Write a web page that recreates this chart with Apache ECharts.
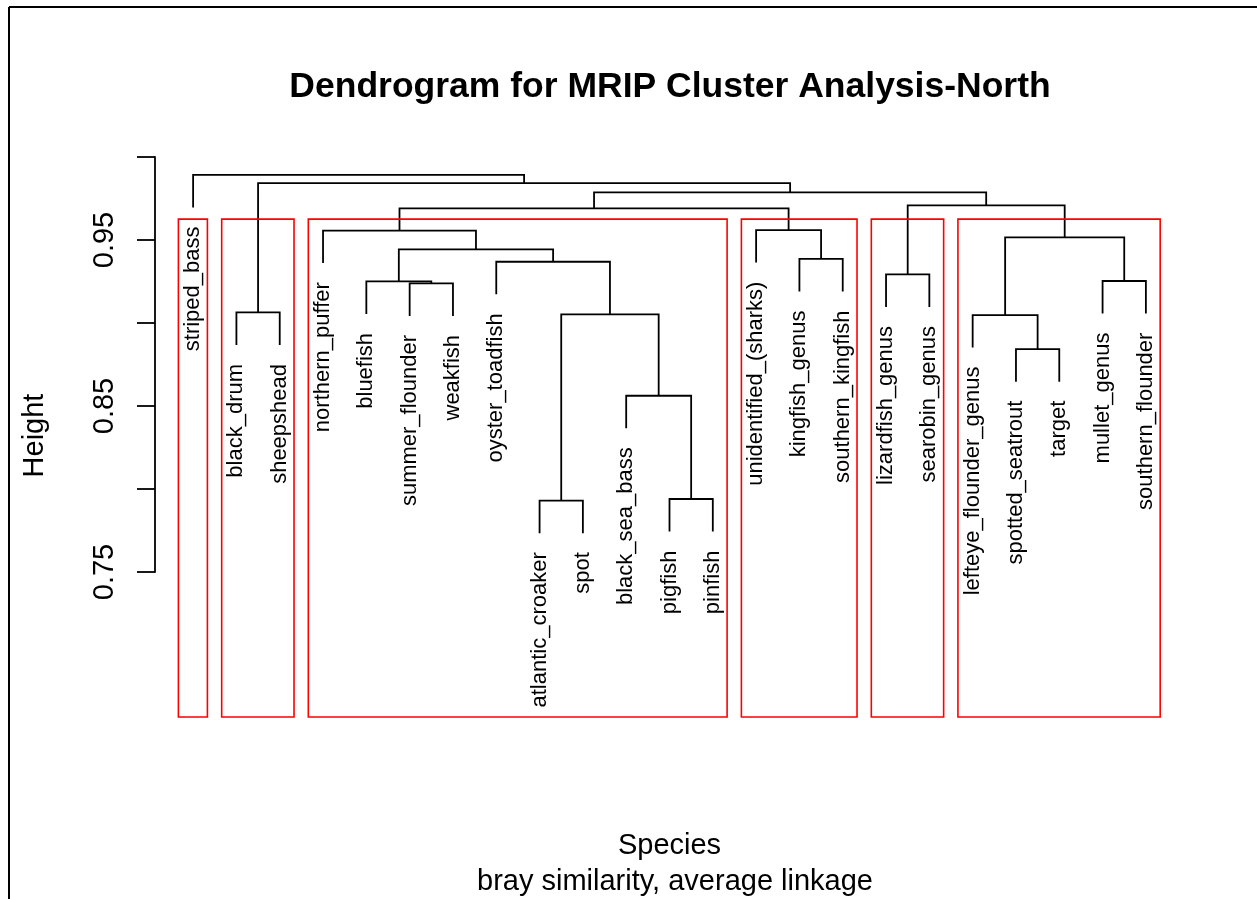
<!DOCTYPE html>
<html>
<head>
<meta charset="utf-8">
<style>
  html, body { margin: 0; padding: 0; background: #fff; }
  #chart { width: 1257px; height: 899px; }
</style>
<script src="https://cdn.jsdelivr.net/npm/echarts@6/dist/echarts.min.js"></script>
</head>
<body>
<div id="chart"></div>
<script>
// leaves in plotting order (left to right)
const leaves = [
    "striped_bass", "black_drum", "sheepshead", "northern_puffer", "bluefish",
    "summer_flounder", "weakfish", "oyster_toadfish", "atlantic_croaker", "spot",
    "black_sea_bass", "pigfish", "pinfish", "unidentified_(sharks)", "kingfish_genus",
    "southern_kingfish", "lizardfish_genus", "searobin_genus", "lefteye_flounder_genus",
    "spotted_seatrout", "target", "mullet_genus", "southern_flounder"
];

// hclust-style merges: negative = leaf position, positive = earlier merge row; third = height
const merges = [
    [-9, -10, 0.7930],
    [-12, -13, 0.7940],
    [-11, 2, 0.8562],
    [-20, -21, 0.8843],
    [-19, 4, 0.9048],
    [1, 3, 0.9052],
    [-2, -3, 0.9064],
    [-6, -7, 0.9239],
    [-5, 8, 0.9251],
    [-22, -23, 0.9253],
    [-17, -18, 0.9293],
    [-8, 6, 0.9369],
    [-15, -16, 0.9386],
    [9, 12, 0.9444],
    [5, 10, 0.9516],
    [-4, 14, 0.9557],
    [-14, 13, 0.9560],
    [16, 17, 0.9691],
    [11, 15, 0.9709],
    [18, 19, 0.9787],
    [7, 20, 0.9842],
    [-1, 21, 0.9892]
];

// rect.hclust(k = 6) cluster sizes, left to right
const clusterSizes = [1, 2, 10, 3, 2, 5];
const yTickLabels = ["0.75", "0.85", "0.95"];
const hangFraction = 0.1;

const yMin = 0.6627;
const yMax = 1.0018;
const font = '"Liberation Sans", Arial, Helvetica, sans-serif';

const heights = merges.map((m) => m[2]);
const hang = hangFraction * (Math.max(...heights) - Math.min(...heights));

const nodeX = [];
const xOf = (ref) => (ref < 0 ? -ref : nodeX[ref - 1]);
const topOf = (ref, parentHeight) => (ref < 0 ? parentHeight - hang : merges[ref - 1][2]);
merges.forEach((m, i) => {
    nodeX[i] = (xOf(m[0]) + xOf(m[1])) / 2;
});

const linkData = merges.map((m) => [xOf(m[0]), xOf(m[1]), topOf(m[0], m[2]), topOf(m[1], m[2]), m[2]]);

const leafData = leaves.map((name, i) => {
    const parent = merges.find((m) => m[0] === -(i + 1) || m[1] === -(i + 1));
    return [i + 1, parent[2] - hang];
});

const sortedHeights = [...heights].sort((a, b) => b - a);
const k = clusterSizes.length;
const boxTop = (sortedHeights[k - 2] + sortedHeights[k - 1]) / 2;
let start = 0;
const boxData = clusterSizes.map((size) => {
    const box = [start + 0.66, start + size + 0.33, yMin, boxTop];
    start += size;
    return box;
});

const chart = echarts.init(document.getElementById("chart"), null, { renderer: "canvas" });

chart.setOption({
    animation: false,
    backgroundColor: "#fff",
    title: [
        {
            text: "Dendrogram for MRIP Cluster Analysis-North",
            left: 665,
            top: 64,
            textAlign: "center",
            textStyle: { fontFamily: font, fontSize: 35.5, fontWeight: "bold", color: "#000" }
        },
        {
            text: "bray similarity, average linkage",
            left: 670,
            top: 862,
            textAlign: "center",
            textStyle: { fontFamily: font, fontSize: 29, fontWeight: "normal", color: "#000" }
        }
    ],
    grid: [
        { left: 155, top: 154, width: 1029, height: 563 },
        { left: 155, top: 157, width: 1029, height: 415 }
    ],
    xAxis: [
        {
            gridIndex: 0,
            type: "value",
            min: 0.12,
            max: 23.88,
            axisLine: { show: false },
            axisTick: { show: false },
            axisLabel: { show: false },
            splitLine: { show: false },
            name: "Species",
            nameLocation: "middle",
            nameGap: 114,
            nameTextStyle: { fontFamily: font, fontSize: 29, color: "#000" }
        },
        { gridIndex: 1, type: "value", min: 0.12, max: 23.88, show: false }
    ],
    yAxis: [
        {
            gridIndex: 0,
            type: "value",
            min: yMin,
            max: yMax,
            axisLine: { show: false },
            axisTick: { show: false },
            axisLabel: { show: false },
            splitLine: { show: false },
            name: "Height",
            nameLocation: "middle",
            nameRotate: 90,
            nameGap: 106,
            nameTextStyle: { fontFamily: font, fontSize: 29, color: "#000" }
        },
        {
            gridIndex: 1,
            type: "value",
            min: 0.75,
            max: 1.0,
            interval: 0.05,
            axisLine: { show: true, lineStyle: { color: "#000", width: 1.8 } },
            axisTick: { show: true, length: 18, lineStyle: { color: "#000", width: 1.8 } },
            axisLabel: {
                rotate: 90,
                margin: 36,
                fontFamily: font,
                fontSize: 29,
                color: "#000",
                formatter(value) {
                    const text = value.toFixed(2);
                    return yTickLabels.includes(text) ? text : "";
                }
            },
            splitLine: { show: false }
        }
    ],
    graphic: [
        { type: "line", shape: { x1: 9, y1: 7, x2: 1257, y2: 7 }, style: { stroke: "#000", lineWidth: 2 } },
        { type: "line", shape: { x1: 9, y1: 7, x2: 9, y2: 899 }, style: { stroke: "#000", lineWidth: 2 } }
    ],
    series: [
        {
            type: "custom",
            name: "links",
            xAxisIndex: 0,
            yAxisIndex: 0,
            clip: false,
            encode: { x: [0, 1], y: [2, 3, 4] },
            data: linkData,
            renderItem(params, api) {
                const h = api.value(4);
                const points = [
                    api.coord([api.value(0), api.value(2)]),
                    api.coord([api.value(0), h]),
                    api.coord([api.value(1), h]),
                    api.coord([api.value(1), api.value(3)])
                ];
                return {
                    type: "polyline",
                    shape: { points },
                    style: { stroke: "#000", lineWidth: 1.8, fill: null }
                };
            }
        },
        {
            type: "custom",
            name: "labels",
            xAxisIndex: 0,
            yAxisIndex: 0,
            clip: false,
            encode: { x: 0, y: 1 },
            data: leafData,
            renderItem(params, api) {
                const p = api.coord([api.value(0), api.value(1)]);
                return {
                    type: "text",
                    x: p[0],
                    y: p[1] + 19,
                    rotation: Math.PI / 2,
                    style: {
                        text: leaves[params.dataIndex],
                        align: "right",
                        verticalAlign: "middle",
                        font: "22px " + font,
                        fill: "#000"
                    }
                };
            }
        },
        {
            type: "custom",
            name: "clusters",
            xAxisIndex: 0,
            yAxisIndex: 0,
            clip: false,
            encode: { x: [0, 1], y: [2, 3] },
            data: boxData,
            renderItem(params, api) {
                const a = api.coord([api.value(0), api.value(3)]);
                const b = api.coord([api.value(1), api.value(2)]);
                return {
                    type: "rect",
                    shape: { x: a[0], y: a[1], width: b[0] - a[0], height: b[1] - a[1] },
                    style: { stroke: "#ff0000", lineWidth: 1.6, fill: "none" }
                };
            }
        }
    ]
});
</script>
</body>
</html>
